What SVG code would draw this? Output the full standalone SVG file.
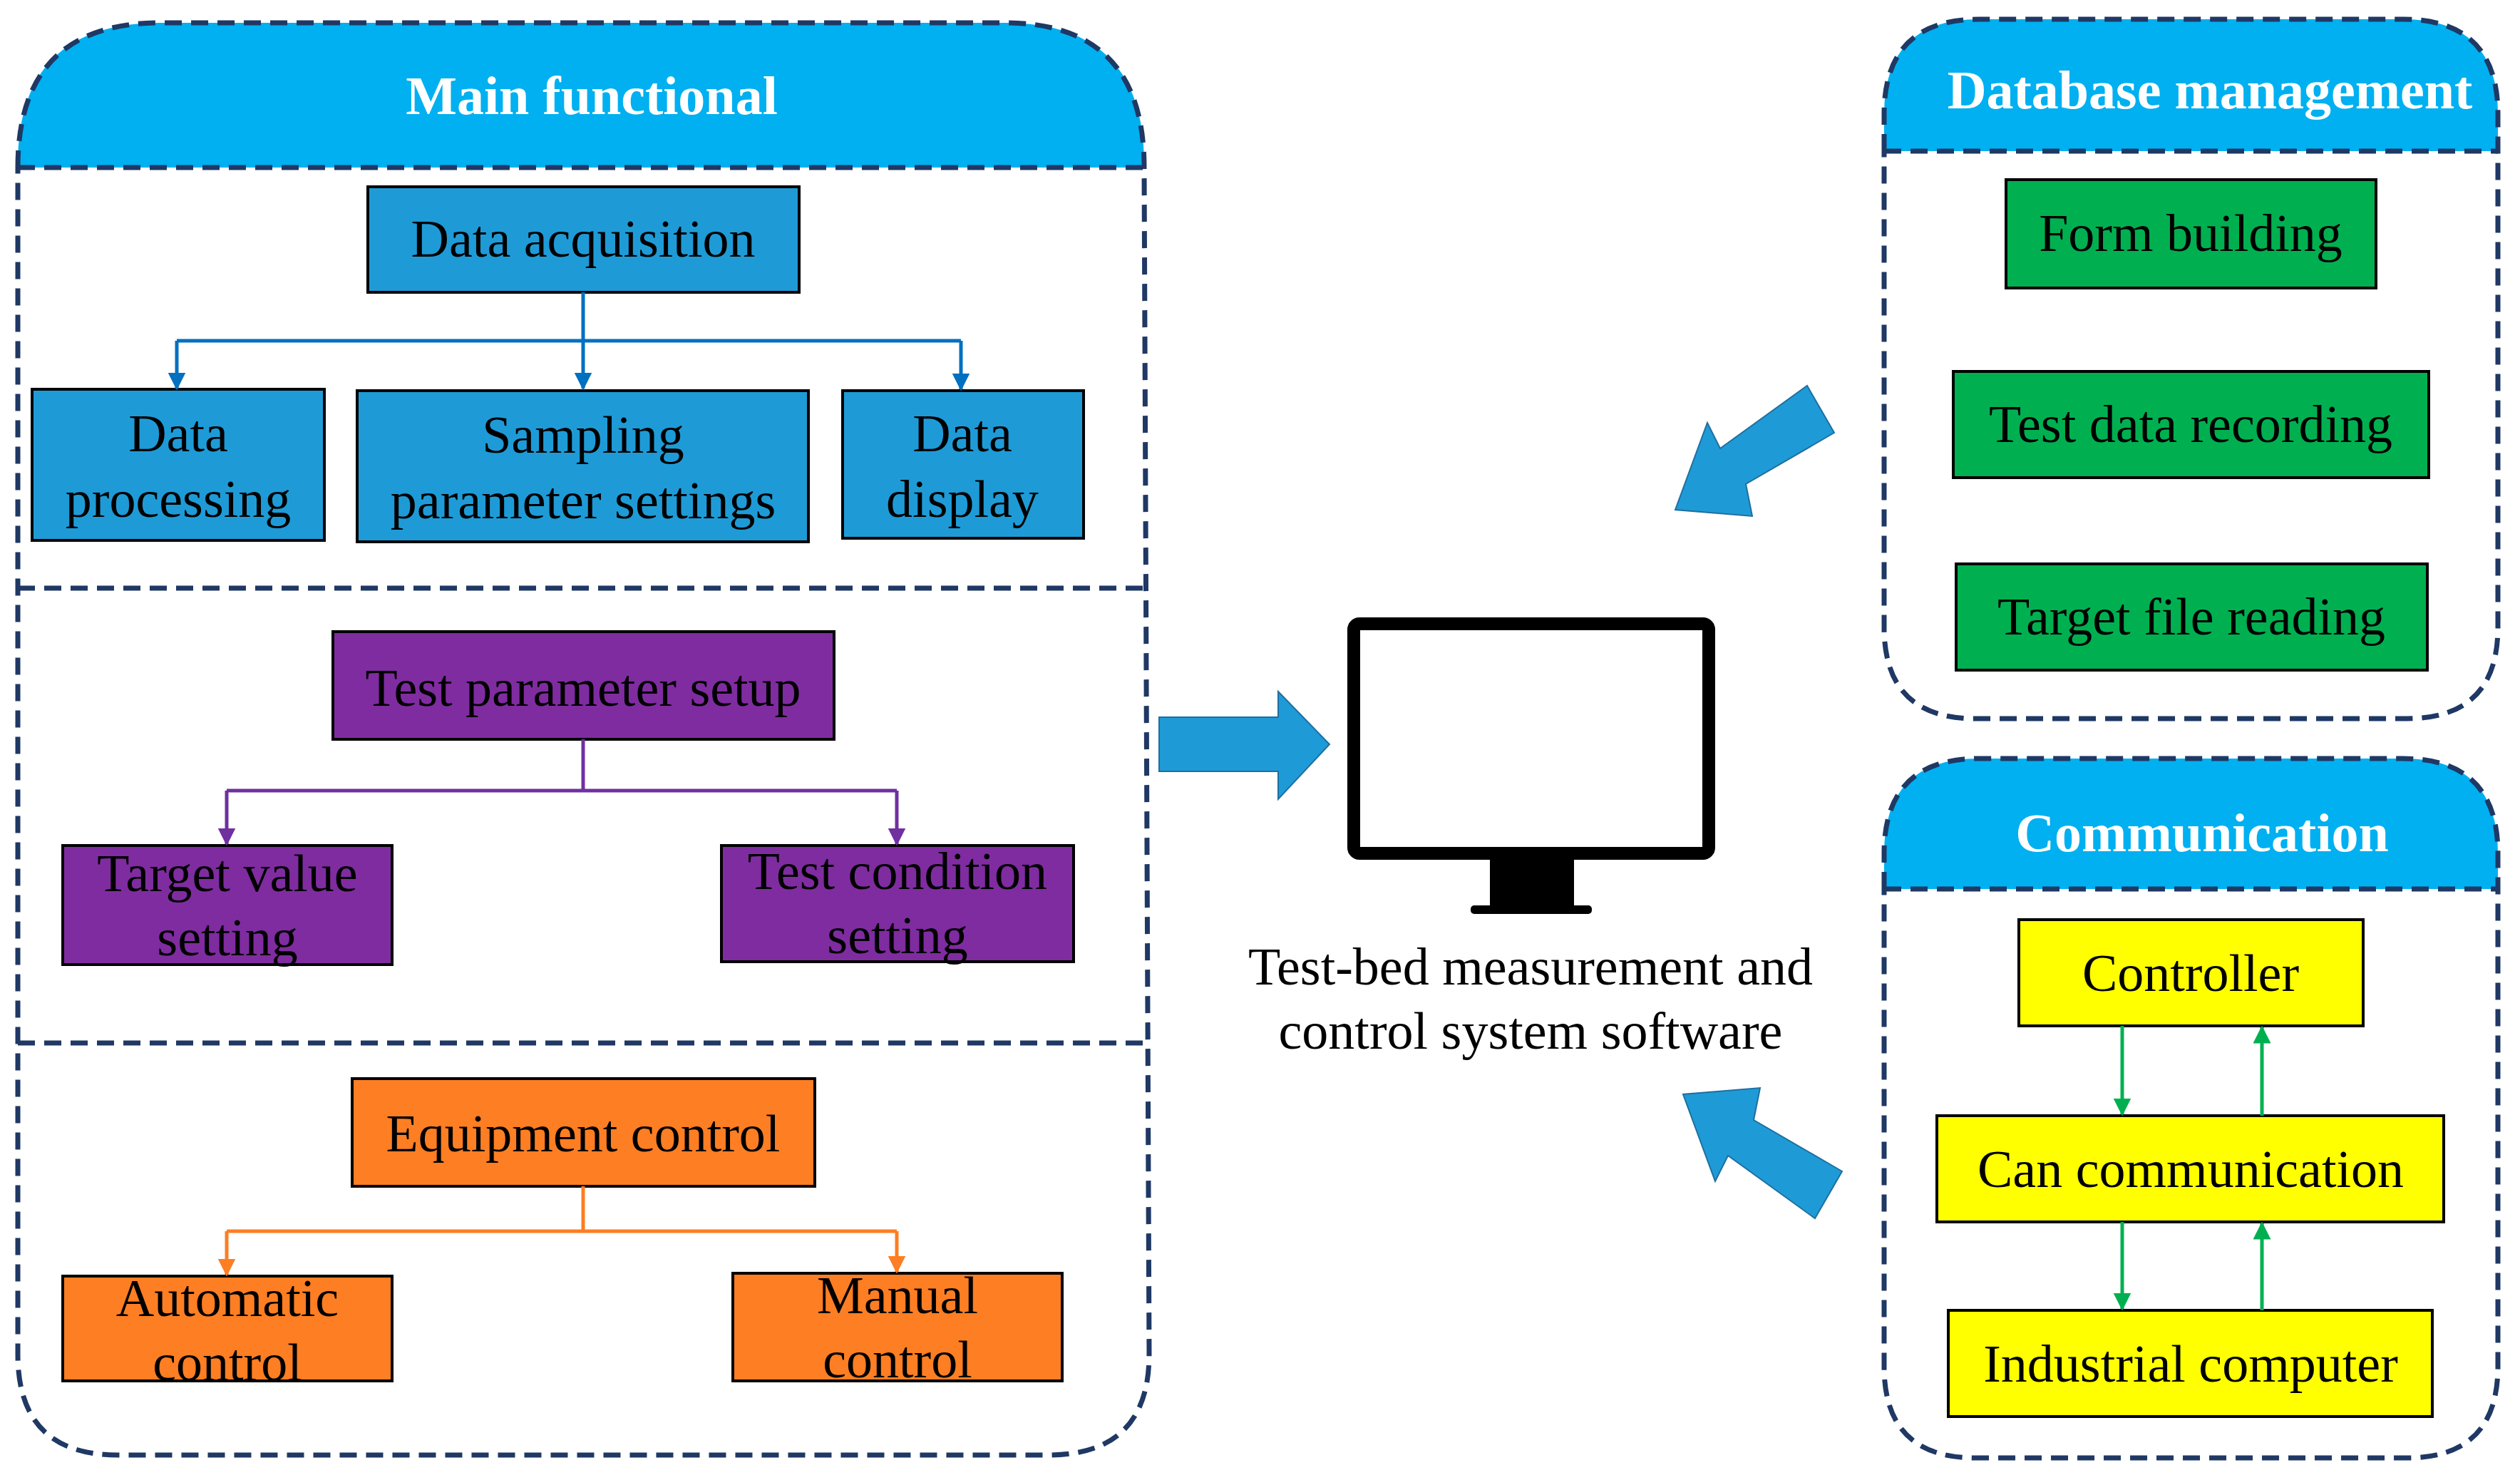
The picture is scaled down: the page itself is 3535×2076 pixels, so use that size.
<svg xmlns="http://www.w3.org/2000/svg" width="3535" height="2076" viewBox="0 0 3535 2076">
<style>
.cont{fill:none;stroke:#1F3864;stroke-width:7;stroke-dasharray:24,13}
.hdr{fill:#00B0F0}
.sep{stroke:#1F3864;stroke-width:7;stroke-dasharray:24,13;fill:none}
.ht{font-family:"Liberation Serif",serif;font-weight:bold;font-size:76px;fill:#fff;text-anchor:middle}
.t{font-family:"Liberation Serif",serif;font-size:74px;fill:#000;text-anchor:middle}
.box{stroke:#000;stroke-width:4}
.blue{fill:#1E9BD7}.purple{fill:#7F2CA0}.orange{fill:#FD7E23}.green{fill:#00B050}.yellow{fill:#FFFF00}
.big{fill:#1E9BD7;stroke:#1F6FA0;stroke-width:2}
</style>
<defs>
<marker id="ab" viewBox="0 0 10 10" refX="9" refY="5" markerWidth="5" markerHeight="5" orient="auto"><path d="M0,0L10,5L0,10z" fill="#0070C0"/></marker>
<marker id="ap" viewBox="0 0 10 10" refX="9" refY="5" markerWidth="5" markerHeight="5" orient="auto"><path d="M0,0L10,5L0,10z" fill="#7030A0"/></marker>
<marker id="ao" viewBox="0 0 10 10" refX="9" refY="5" markerWidth="5" markerHeight="5" orient="auto"><path d="M0,0L10,5L0,10z" fill="#FD7E23"/></marker>
<marker id="ag" viewBox="0 0 10 10" refX="9" refY="5" markerWidth="5" markerHeight="5" orient="auto"><path d="M0,0L10,5L0,10z" fill="#00B050"/></marker>
</defs>
<rect width="3535" height="2076" fill="#fff"/>

<g id="main-functional">
<path class="hdr" d="M25,235 L25,230 Q25,32 225,32 L1410,32 Q1605,32 1605,230 L1605,235 Z"/>
<path class="cont" d="M25,235 Q25,32 225,32 L1410,32 Q1605,32 1605,235 L1612,1900 Q1612,2041 1470,2041 L165,2041 Q25,2041 25,1900 Z"/>
<line class="sep" x1="25" y1="235" x2="1605" y2="235"/>
<line class="sep" x1="25" y1="825" x2="1612" y2="825"/>
<line class="sep" x1="25" y1="1463" x2="1612" y2="1463"/>
<text class="ht" x="830" y="160">Main functional</text>
</g>

<g id="data-acquisition"><rect class="box blue" x="516" y="262" width="605" height="148"/><text class="t" x="818" y="360">Data acquisition</text></g>
<g id="data-processing"><rect class="box blue" x="45" y="546" width="410" height="212"/><text class="t" x="250" y="633">Data</text><text class="t" x="250" y="725">processing</text></g>
<g id="sampling"><rect class="box blue" x="501" y="548" width="633" height="212"/><text class="t" x="818" y="635">Sampling</text><text class="t" x="818" y="727">parameter settings</text></g>
<g id="data-display"><rect class="box blue" x="1182" y="548" width="338" height="207"/><text class="t" x="1350" y="633">Data</text><text class="t" x="1350" y="725">display</text></g>

<g id="test-parameter-setup"><rect class="box purple" x="467" y="886" width="703" height="151"/><text class="t" x="818" y="990">Test parameter setup</text></g>
<g id="target-value"><rect class="box purple" x="88" y="1186" width="462" height="167"/><text class="t" x="319" y="1250">Target value</text><text class="t" x="319" y="1340">setting</text></g>
<g id="test-condition"><rect class="box purple" x="1012" y="1186" width="494" height="163"/><text class="t" x="1259" y="1247">Test condition</text><text class="t" x="1259" y="1337">setting</text></g>

<g id="equipment-control"><rect class="box orange" x="494" y="1513" width="649" height="151"/><text class="t" x="818" y="1615">Equipment control</text></g>
<g id="automatic-control"><rect class="box orange" x="88" y="1790" width="462" height="147"/><text class="t" x="319" y="1846">Automatic</text><text class="t" x="319" y="1936">control</text></g>
<g id="manual-control"><rect class="box orange" x="1028" y="1786" width="462" height="151"/><text class="t" x="1259" y="1842">Manual</text><text class="t" x="1259" y="1932">control</text></g>

<g id="database-management">
<path class="hdr" d="M2643,212 L2643,160 Q2643,27 2776,27 L3371,27 Q3504,27 3504,160 L3504,212 Z"/>
<path class="cont" d="M2643,212 L2643,160 Q2643,27 2776,27 L3371,27 Q3504,27 3504,160 L3504,880 Q3504,1008 3376,1008 L2771,1008 Q2643,1008 2643,880 Z"/>
<line class="sep" x1="2643" y1="212" x2="3504" y2="212"/>
<text class="ht" x="3100" y="152">Database management</text>
</g>
<g id="form-building"><rect class="box green" x="2814" y="252" width="519" height="152"/><text class="t" x="3073" y="352">Form building</text></g>
<g id="test-data-recording"><rect class="box green" x="2740" y="521" width="667" height="149"/><text class="t" x="3073" y="620">Test data recording</text></g>
<g id="target-file-reading"><rect class="box green" x="2744" y="791" width="661" height="149"/><text class="t" x="3074" y="890">Target file reading</text></g>

<g id="communication">
<path class="hdr" d="M2643,1247 L2643,1197 Q2643,1064 2776,1064 L3371,1064 Q3504,1064 3504,1197 L3504,1247 Z"/>
<path class="cont" d="M2643,1247 L2643,1197 Q2643,1064 2776,1064 L3371,1064 Q3504,1064 3504,1197 L3504,1917 Q3504,2045 3376,2045 L2771,2045 Q2643,2045 2643,1917 Z"/>
<line class="sep" x1="2643" y1="1247" x2="3504" y2="1247"/>
<text class="ht" x="3089" y="1194">Communication</text>
</g>
<g id="controller"><rect class="box yellow" x="2832" y="1290" width="483" height="149"/><text class="t" x="3073" y="1390">Controller</text></g>
<g id="can-communication"><rect class="box yellow" x="2717" y="1565" width="711" height="149"/><text class="t" x="3073" y="1665">Can communication</text></g>
<g id="industrial-computer"><rect class="box yellow" x="2733" y="1838" width="679" height="149"/><text class="t" x="3073" y="1938">Industrial computer</text></g>

<g id="software">
<rect x="1899" y="875" width="498" height="322" rx="8" fill="#fff" stroke="#000" stroke-width="18"/>
<rect x="2090" y="1206" width="118" height="66" fill="#000"/>
<rect x="2063" y="1270" width="170" height="12" rx="5" fill="#000"/>
<text class="t" x="2147" y="1381">Test-bed measurement and</text>
<text class="t" x="2147" y="1471">control system software</text>
</g>

<g id="connectors" fill="none" stroke-width="5">
<path d="M248,478H1348" stroke="#0070C0"/>
<path d="M818,410V545" stroke="#0070C0" marker-end="url(#ab)"/>
<path d="M248,478V545" stroke="#0070C0" marker-end="url(#ab)"/>
<path d="M1348,478V546" stroke="#0070C0" marker-end="url(#ab)"/>
<path d="M818,1037V1109 M318,1109H1258" stroke="#7030A0"/>
<path d="M318,1109V1184" stroke="#7030A0" marker-end="url(#ap)"/>
<path d="M1258,1109V1184" stroke="#7030A0" marker-end="url(#ap)"/>
<path d="M818,1664V1727 M318,1727H1258" stroke="#FD7E23"/>
<path d="M318,1727V1788" stroke="#FD7E23" marker-end="url(#ao)"/>
<path d="M1258,1727V1784" stroke="#FD7E23" marker-end="url(#ao)"/>
<path d="M2977,1439V1563" stroke="#00B050" marker-end="url(#ag)"/>
<path d="M3173,1565V1441" stroke="#00B050" marker-end="url(#ag)"/>
<path d="M2977,1714V1836" stroke="#00B050" marker-end="url(#ag)"/>
<path d="M3173,1838V1716" stroke="#00B050" marker-end="url(#ag)"/>
<polygon class="big" points="1626,1006 1793,1006 1793,970 1865,1044 1793,1121 1793,1082 1626,1082"/>
<polygon class="big" points="2350,715 2395,593 2413,629 2535,541 2573,607 2449,679 2458,724"/>
<polygon class="big" points="2361,1535 2406,1657 2424,1621 2546,1709 2584,1643 2460,1571 2469,1526"/>
</g>
</svg>
